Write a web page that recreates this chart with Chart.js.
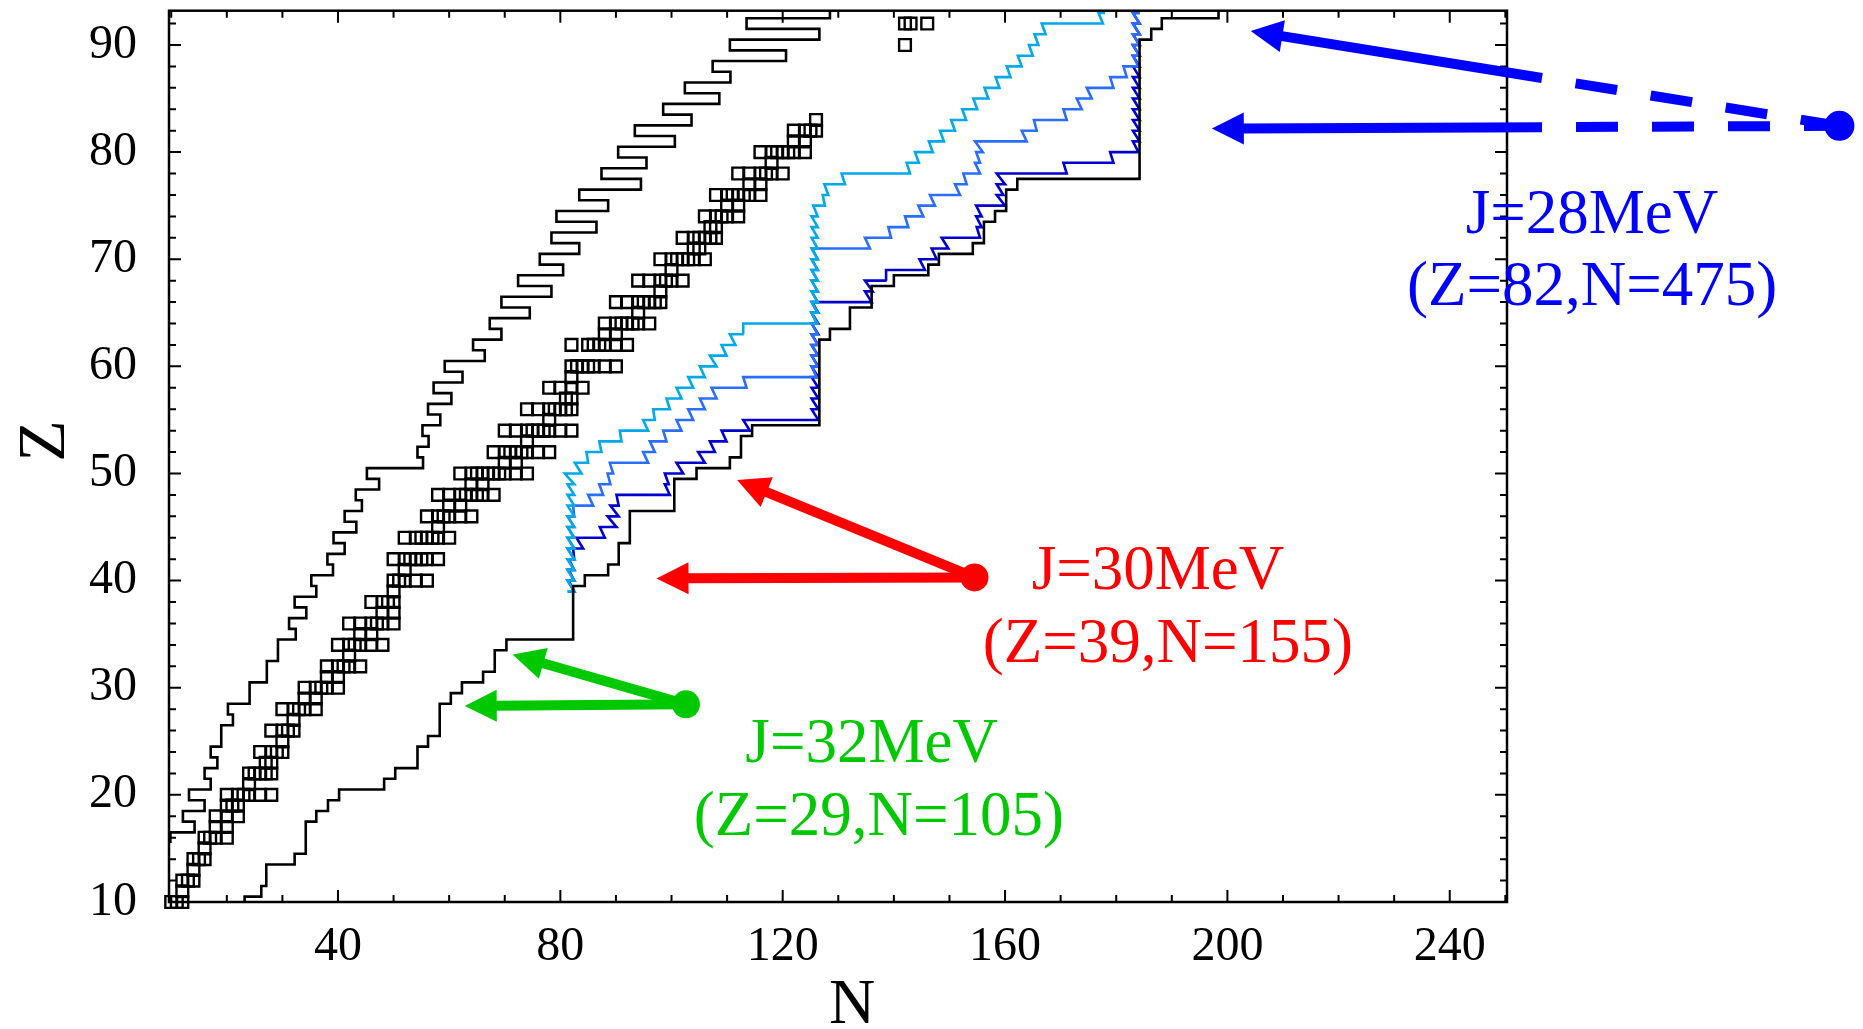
<!DOCTYPE html>
<html>
<head>
<meta charset="utf-8">
<script src="https://cdn.jsdelivr.net/npm/chart.js@4.4.0/dist/chart.umd.min.js"></script>
<style>
  html, body { margin: 0; padding: 0; background: #fff; }
  #wrap { width: 1863px; height: 1029px; position: relative; }
</style>
</head>
<body>
<div id="wrap"><canvas id="chart"></canvas></div>
<script>
// Nuclear chart: drip lines, stable nuclei and three J values

const xTickLabels = [40, 80, 120, 160, 200, 240];
const yTickLabels = [10, 20, 30, 40, 50, 60, 70, 80, 90];

// stable (and long lived) nuclei, N values listed per Z
const stableZ = [10, 11, 12, 13, 14, 15, 16, 17, 18, 19, 20, 21, 22, 23, 24, 25, 26, 27, 28, 29,
  30, 31, 32, 33, 34, 35, 36, 37, 38, 39, 40, 41, 42, 44, 45, 46, 47, 48, 49, 50,
  51, 52, 53, 54, 55, 56, 57, 58, 59, 60, 62, 63, 64, 65, 66, 67, 68, 69, 70, 71,
  72, 73, 74, 75, 76, 77, 78, 79, 80, 81, 82, 83, 90, 92];
const stableN = [
  [10, 11, 12], [12], [12, 13, 14], [14], [14, 15, 16], [16], [16, 17, 18, 20], [18, 20],
  [18, 20, 22], [20, 21, 22], [20, 22, 23, 24, 26, 28], [24], [24, 25, 26, 27, 28], [27, 28],
  [26, 28, 29, 30], [30], [28, 30, 31, 32], [32], [30, 32, 33, 34, 36], [34, 36],
  [34, 36, 37, 38, 40], [38, 40], [38, 40, 41, 42, 44], [42], [40, 42, 43, 44, 46, 48], [44, 46],
  [42, 44, 46, 47, 48, 50], [48, 50], [46, 48, 49, 50], [50], [50, 51, 52, 54, 56], [52],
  [50, 52, 53, 54, 55, 56, 58], [52, 54, 55, 56, 57, 58, 60], [58], [56, 58, 59, 60, 62, 64],
  [60, 62], [58, 60, 62, 63, 64, 65, 66, 68], [64, 66], [62, 64, 65, 66, 67, 68, 69, 70, 72, 74],
  [70, 72], [68, 70, 71, 72, 73, 74, 76, 78], [74], [70, 72, 74, 75, 76, 77, 78, 80, 82], [78],
  [74, 76, 78, 79, 80, 81, 82], [81, 82], [78, 80, 82, 84], [82], [82, 83, 84, 85, 86, 88, 90],
  [82, 85, 86, 87, 88, 90, 92], [88, 90], [88, 90, 91, 92, 93, 94, 96], [94],
  [90, 92, 94, 95, 96, 97, 98], [98], [94, 96, 98, 99, 100, 102], [100],
  [98, 100, 101, 102, 103, 104, 106], [104, 105], [102, 104, 105, 106, 107, 108], [107, 108],
  [106, 108, 109, 110, 112], [110, 112], [108, 110, 111, 112, 113, 114, 116], [114, 116],
  [112, 114, 116, 117, 118, 120], [118], [116, 118, 119, 120, 121, 122, 124], [122, 124],
  [122, 124, 125, 126], [126], [142], [142, 143, 146]
];

// proton drip line (black, left): lightest bound N for each Z
const pDripZ = [16, 17, 18, 19, 20, 21, 22, 23, 24, 25, 26, 27, 28, 29, 30, 31, 32, 33, 34, 35,
  36, 37, 38, 39, 40, 41, 42, 43, 44, 45, 46, 47, 48, 49, 50, 51, 52, 53, 54, 55,
  56, 57, 58, 59, 60, 61, 62, 63, 64, 65, 66, 67, 68, 69, 70, 71, 72, 73, 74, 75,
  76, 77, 78, 79, 80, 81, 82, 83, 84, 85, 86, 87, 88, 89, 90, 91, 92, 93];
const pDripN = [9.85, 14.2, 12.1, 16.0, 13.2, 17.1, 16.0, 18.3, 17.1, 19.0, 19.0, 21.1, 20.2, 24.1, 24.1, 27.2, 27.2, 29.2, 29.2, 32.4,
  31.2, 34.3, 32.2, 36.1, 35.2, 39.1, 38.1, 41.2, 39.2, 43.3, 41.2, 44.3, 43.2, 47.4, 45.2, 55.3, 54.3, 56.3, 55.2, 58.4,
  56.2, 60.4, 57.2, 62.4, 59.2, 66.4, 64.3, 69.4, 67.3, 74.5, 69.4, 78.4, 72.4, 80.5, 76.3, 83.4, 78.4, 86.5, 79.3, 88.6,
  83.4, 94.5, 87.4, 95.5, 90.4, 100.6, 93.4, 103.6, 98.5, 108.6, 102.4, 110.6, 107.4, 120.6, 110.5, 126.6, 113.5, 128.5];

// neutron drip line (black, right): heaviest bound N for each Z
const nDripZ = [10, 11, 12, 13, 14, 15, 16, 17, 18, 19, 20, 21, 22, 23, 24, 25, 26, 27, 28, 29,
  30, 31, 32, 33, 34, 35, 36, 37, 38, 39, 40, 41, 42, 43, 44, 45, 46, 47, 48, 49,
  50, 51, 52, 53, 54, 55, 56, 57, 58, 59, 60, 61, 62, 63, 64, 65, 66, 67, 68, 69,
  70, 71, 72, 73, 74, 75, 76, 77, 78, 79, 80, 81, 82, 83, 84, 85, 86, 87, 88, 89,
  90, 91, 92, 93];
const nDripN = [23.2, 26.2, 27.1, 27.1, 32.2, 34.2, 34.2, 34.2, 36.1, 38.2, 40.2, 48.3, 50.3, 54.3, 54.3, 56.2, 58.3, 58.3, 58.3, 60.3,
  62.3, 66.1, 68.2, 68.2, 70.3, 82.3, 82.3, 82.3, 82.3, 82.3, 84.4, 88.6, 90.5, 90.5, 92.5, 92.5, 92.5, 100.5, 100.5, 100.5,
  104.5, 110.5, 112.5, 112.5, 114.5, 126.6, 126.6, 126.6, 126.6, 126.6, 126.6, 126.6, 126.6, 128.5, 132.1, 132.1, 136, 136, 140, 146.2,
  148.1, 154.2, 156.2, 156.2, 158.2, 160.2, 160.2, 162.2, 184.2, 184.2, 184.2, 184.2, 184.2, 184.2, 184.2, 184.2, 184.2, 184.2, 184.2, 184.2,
  184.2, 186.3, 188.2, 198.4];

// coloured drip lines: for each Z the run of N from left to right end
const lightZ = [39, 40, 41, 42, 43, 44, 45, 46, 47, 48, 49, 50, 51, 52, 53, 54, 55, 56, 57, 58,
  59, 60, 61, 62, 63, 64, 65, 66, 67, 68, 69, 70, 71, 72, 73, 74, 75, 76, 77, 78,
  79, 80, 81, 82, 83, 84, 85, 86, 87, 88, 89, 90, 91, 92, 93];
const lightLeft = [81.3, 81.3, 81.3, 81.3, 81.3, 81.3, 81.3, 81.3, 81.3, 81.3, 81.3, 80.8, 82.6, 84.7, 87, 90.7, 94.9, 96.7, 99.1, 100.9,
  103, 105.1, 106.9, 109, 110.5, 112.9, 125.2, 125.2, 125.2, 125.2, 125.2, 125.2, 125.2, 125.2, 125.2, 125.2, 125.5, 127.2, 127.5, 130.6,
  142.3, 143.8, 146.3, 148.3, 150.3, 152.3, 154.3, 156.3, 158.3, 160.3, 162.3, 164.3, 165.3, 166.6, 176.8];
const lightRight = [82.5, 82.5, 82.5, 82.5, 82.5, 82.5, 82.5, 82.5, 82.5, 82.5, 82.5, 83.8, 85, 87.4, 91, 95.8, 97, 99.7, 101.8, 103.9,
  106, 108.1, 109.9, 111.5, 113, 126.1, 126.3, 126.3, 126.3, 126.3, 126.3, 126.3, 126.3, 126.3, 126.3, 126.3, 127.6, 128.2, 131.2, 142.9,
  144.5, 147, 149, 151, 153, 155, 157, 159, 161, 163, 165, 166, 167.3, 177.6, 178];

const midZ = [39, 40, 41, 42, 43, 44, 45, 46, 47, 48, 49, 50, 51, 52, 53, 54, 55, 56, 57, 58,
  59, 60, 61, 62, 63, 64, 65, 66, 67, 68, 69, 70, 71, 72, 73, 74, 75, 76, 77, 78,
  79, 80, 81, 82, 83, 84, 85, 86, 87, 88, 89, 90, 91, 92, 93];
const midLeft = [81.3, 81.3, 81.3, 81.3, 81.3, 81.3, 81.3, 81.3, 82.3, 85, 87, 88.5, 88.9, 94.9, 96.1, 98.5, 100.9, 103, 105.1, 107.2,
  112.9, 125.2, 125.2, 125.2, 125.2, 125.2, 125.2, 125.2, 125.2, 125.2, 125.2, 125.2, 125.3, 134.8, 139, 142, 144.4, 146.5, 151, 152.5,
  154.6, 154.8, 154.6, 163, 165.2, 170.5, 172.9, 174.7, 178.9, 181.3, 183, 183, 183, 183, 183];
const midRight = [82.5, 82.5, 82.5, 82.5, 82.5, 82.5, 82.5, 82.5, 85.9, 87.7, 89, 89.5, 95.8, 97, 99.1, 101.8, 103.9, 106, 108.1, 113.5,
  126.1, 126.3, 126.3, 126.3, 126.3, 126.3, 126.3, 126.3, 126.3, 126.3, 126.3, 126.3, 135.7, 139.5, 142.6, 145.3, 147.4, 151.9, 153.1, 155.5,
  155.5, 156, 163.9, 165.7, 171.1, 173.8, 175.6, 179.5, 181.9, 184, 184.2, 184.2, 184.2, 184.2, 184.2];

const darkZ = [39, 40, 41, 42, 43, 44, 45, 46, 47, 48, 49, 50, 51, 52, 53, 54, 55, 56, 57, 58,
  59, 60, 61, 62, 63, 64, 65, 66, 67, 68, 69, 70, 71, 72, 73, 74, 75, 76, 77, 78,
  79, 80, 81, 82, 83, 84, 85, 86, 87, 88, 89, 90, 91, 92, 93];
const darkLeft = [81.5, 81.5, 81.5, 81.5, 82.3, 82.9, 87.1, 88.5, 89, 90.1, 98.8, 98.8, 100.9, 104.8, 106.9, 109, 112.9, 125.2, 125.2, 125.2,
  125.2, 125.2, 125.2, 125.2, 125.2, 125.2, 125.2, 125.3, 134.8, 134.8, 138.6, 144.6, 146.8, 148.6, 154.9, 154.8, 154.8, 158.5, 158.5, 158.5,
  170.5, 178.9, 183, 183, 183, 183, 183, 183, 183, 183, 183, 183, 183, 183, 183];
const darkRight = [82.5, 82.5, 82.5, 82.5, 84.1, 88, 90.1, 90.5, 90.5, 99.7, 99.5, 102.1, 106, 107.8, 109.9, 114.1, 126.4, 126.4, 126.4, 126.4,
  126.4, 126.4, 126.4, 126.4, 126.4, 126.4, 126.4, 136, 136.2, 138.7, 145.6, 147.7, 149.8, 155.5, 155.8, 155.8, 160, 159.7, 160, 171.1,
  179.5, 184, 184.2, 184.2, 184.2, 184.2, 184.2, 184.2, 184.2, 184.2, 184.2, 184.2, 184.2, 184.2, 184.2];

// annotations (data units): dot, arrow tips, text anchors
const noteTitles = ['J=28MeV', 'J=30MeV', 'J=32MeV'];
const noteSubtitles = ['(Z=82,N=475)', '(Z=39,N=155)', '(Z=29,N=105)'];
const noteDotN = [310.1, 154.5, 102.6];
const noteDotZ = [82.45, 40.3, 28.45];
const noteTipN = [[204.2, 197.2], [111.8, 97.3], [71.4, 62.8]];
const noteTipZ = [[91.3, 82.2], [49.4, 40.2], [33.1, 28.3]];
const noteTitleN = [265.6, 187.5, 136.0];
const noteTitleZ = [72.45, 39.2, 23.1];
const noteSubN = [265.6, 189.3, 137.3];
const noteSubZ = [65.72, 32.44, 16.3];

const noteColors = ['#0000ff', '#ff0000', '#00c800'];
const serif = '"Liberation Serif", "Times New Roman", serif';

// step outline: vertical edge at N for each Z row
function stepRows(zs, ns) {
  return zs.flatMap((z, i) => [{ x: ns[i], y: z - 0.5 }, { x: ns[i], y: z + 0.5 }]);
}
// zig-zag line: horizontal run per Z row, slanted links between rows
function runRows(zs, left, right) {
  return zs.flatMap((z, i) => [{ x: left[i], y: z }, { x: right[i], y: z }]);
}

const stablePoints = stableZ.flatMap((z, i) => stableN[i].map(n => ({ x: n, y: z })));

// frame with inward ticks on four sides + axis titles
const framePlugin = {
  id: 'frame',
  afterDatasetsDraw(chart) {
    const { ctx, chartArea: a, scales: { x, y } } = chart;
    ctx.save();
    ctx.strokeStyle = '#000';
    ctx.lineWidth = 2;
    ctx.beginPath();
    for (let v = 10; v <= 250; v += 10) {
      const px = x.getPixelForValue(v);
      const len = xTickLabels.includes(v) ? 12 : 7;
      ctx.moveTo(px, a.bottom); ctx.lineTo(px, a.bottom - len);
      ctx.moveTo(px, a.top); ctx.lineTo(px, a.top + len);
    }
    for (let v = 10; v <= 92; v += 2) {
      const py = y.getPixelForValue(v);
      const len = yTickLabels.includes(v) ? 12 : 7;
      ctx.moveTo(a.left, py); ctx.lineTo(a.left + len, py);
      ctx.moveTo(a.right, py); ctx.lineTo(a.right - len, py);
    }
    ctx.stroke();
    ctx.lineWidth = 2.5;
    ctx.strokeRect(a.left, a.top, a.right - a.left, a.bottom - a.top);

    ctx.fillStyle = '#000';
    ctx.textAlign = 'center';
    ctx.textBaseline = 'alphabetic';
    ctx.font = '64px ' + serif;
    ctx.fillText('N', 852, 1023);
    ctx.translate(64, 441);
    ctx.rotate(-Math.PI / 2);
    ctx.font = '68px ' + serif;
    ctx.fillText('Z', 0, 0);
    ctx.restore();
  }
};

function drawArrow(ctx, x0, y0, x1, y1, dashFromX) {
  const ang = Math.atan2(y1 - y0, x1 - x0);
  const c = Math.cos(ang), s = Math.sin(ang);
  const headLen = 32, headHalf = 16;
  const bx = x1 - headLen * c, by = y1 - headLen * s;
  ctx.lineWidth = 10;
  ctx.lineCap = 'butt';
  if (dashFromX !== undefined) {
    const t = (dashFromX - x0) / (x1 - x0);
    const mx = x0 + (x1 - x0) * t, my = y0 + (y1 - y0) * t;
    ctx.beginPath(); ctx.moveTo(bx + 2 * c, by + 2 * s); ctx.lineTo(mx, my); ctx.stroke();
    ctx.save();
    ctx.setLineDash([42, 34]);
    ctx.lineDashOffset = 42;
    ctx.beginPath(); ctx.moveTo(mx, my); ctx.lineTo(x0, y0); ctx.stroke();
    ctx.restore();
  } else {
    ctx.beginPath(); ctx.moveTo(x0, y0); ctx.lineTo(bx + 2 * c, by + 2 * s); ctx.stroke();
  }
  ctx.beginPath();
  ctx.moveTo(x1, y1);
  ctx.lineTo(bx - headHalf * s, by + headHalf * c);
  ctx.lineTo(bx + headHalf * s, by - headHalf * c);
  ctx.closePath();
  ctx.fill();
}

const notesPlugin = {
  id: 'notes',
  afterDraw(chart) {
    const { ctx, chartArea: a, scales: { x, y } } = chart;
    ctx.save();
    noteTitles.forEach((title, i) => {
      const color = noteColors[i];
      ctx.strokeStyle = color;
      ctx.fillStyle = color;
      const dx = x.getPixelForValue(noteDotN[i]);
      const dy = y.getPixelForValue(noteDotZ[i]);
      noteTipN[i].forEach((tn, k) => {
        const tx = x.getPixelForValue(tn);
        const ty = y.getPixelForValue(noteTipZ[i][k]);
        drawArrow(ctx, dx, dy, tx, ty, i === 0 ? a.right + 35 : undefined);
      });
      ctx.beginPath();
      ctx.arc(dx, dy, i === 0 ? 15 : 14, 0, Math.PI * 2);
      ctx.fill();
      ctx.font = '63px ' + serif;
      ctx.textAlign = 'center';
      ctx.textBaseline = 'alphabetic';
      ctx.fillText(title, x.getPixelForValue(noteTitleN[i]), y.getPixelForValue(noteTitleZ[i]));
      ctx.fillText(noteSubtitles[i], x.getPixelForValue(noteSubN[i]), y.getPixelForValue(noteSubZ[i]));
    });
    ctx.restore();
  }
};

const lineStyle = (color) => ({
  showLine: true,
  borderColor: color,
  borderWidth: 2.6,
  pointRadius: 0,
  tension: 0,
  fill: false
});

new Chart(document.getElementById('chart'), {
  type: 'scatter',
  data: {
    datasets: [
      { label: 'proton drip', data: stepRows(pDripZ, pDripN), ...lineStyle('#000000') },
      { label: 'neutron drip', data: stepRows(nDripZ, nDripN), ...lineStyle('#000000') },
      {
        label: 'stable', data: stablePoints, pointStyle: 'rect', pointRadius: 8.3,
        borderColor: '#000', borderWidth: 2.4, backgroundColor: 'rgba(0,0,0,0)', clip: false
      },
      { label: 'light', data: runRows(lightZ, lightLeft, lightRight), ...lineStyle('#00a8e8') },
      { label: 'mid', data: runRows(midZ, midLeft, midRight), ...lineStyle('#2a6dff') },
      { label: 'dark', data: runRows(darkZ, darkLeft, darkRight), ...lineStyle('#0000cc') }
    ]
  },
  options: {
    responsive: true,
    maintainAspectRatio: false,
    animation: false,
    events: [],
    layout: { padding: { left: 0, top: 9.5, right: 356, bottom: 0 } },
    plugins: { legend: { display: false }, tooltip: { enabled: false } },
    scales: {
      x: {
        type: 'linear',
        min: 9.6,
        max: 250.3,
        grid: { display: false },
        border: { display: false },
        afterBuildTicks: (axis) => { axis.ticks = xTickLabels.map(v => ({ value: v })); },
        afterFit: (axis) => { axis.height = 127; axis.paddingLeft = 0; axis.paddingRight = 0; },
        ticks: {
          color: '#000',
          padding: 9,
          maxRotation: 0,
          font: { family: serif, size: 48 }
        }
      },
      y: {
        type: 'linear',
        min: 10,
        max: 93.2,
        grid: { display: false },
        border: { display: false },
        afterBuildTicks: (axis) => { axis.ticks = yTickLabels.map(v => ({ value: v })); },
        afterFit: (axis) => { axis.width = 169; axis.paddingTop = 0; axis.paddingBottom = 0; },
        ticks: {
          color: '#000',
          padding: 24,
          font: { family: serif, size: 48 }
        }
      }
    }
  },
  plugins: [framePlugin, notesPlugin]
});
</script>
</body>
</html>
